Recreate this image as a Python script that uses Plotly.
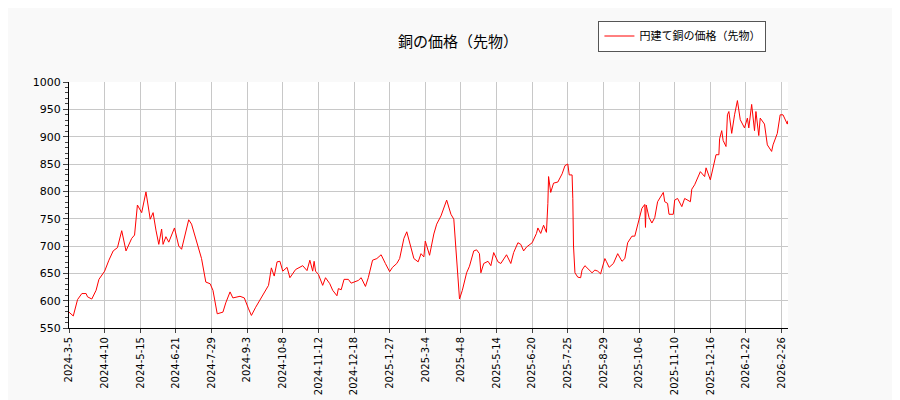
import plotly.graph_objects as go

# trading-day index (0 = 2024-3-5) and price
day = [0, 3, 6, 9, 12, 13, 16, 19, 21, 25, 28, 31, 34, 37, 40, 44, 46, 48, 51, 54,
       57, 59, 61, 63, 65, 66, 68, 70, 74, 77, 79, 81, 84, 86, 88, 90, 93, 96, 99, 101,
       104, 108, 110, 113, 115, 120, 123, 126, 128, 131, 135, 140, 142, 144, 146, 148, 150, 153, 155, 159,
       164, 167, 169, 171, 172, 173, 175, 177, 178, 180, 183, 185, 188, 189, 191, 193, 196, 198, 200, 203,
       205, 208, 210, 213, 216, 219, 222, 225, 227, 230, 232, 235, 237, 240, 242, 245, 247, 249, 250, 253,
       256, 258, 261, 265, 268, 270, 272, 273, 274, 276, 279, 281, 284, 286, 288, 289, 291, 294, 296, 298,
       301, 303, 307, 310, 312, 315, 317, 319, 321, 325, 328, 329, 331, 333, 335, 336, 336.5, 338, 340, 343,
       346, 348, 350, 351, 353, 353.5, 354, 355, 357, 359, 360, 362, 364, 367, 369, 371, 373, 376, 377, 379,
       382, 385, 388, 390, 392, 395, 397, 400, 402, 404, 404.5, 405, 407, 409, 411, 413, 417, 418, 420, 421,
       424, 425, 427, 430, 432, 436, 437, 439, 441, 443, 446, 447, 450, 452, 454, 456, 456.5, 458, 459, 461,
       462, 463, 465, 467, 469, 471, 474, 476, 477, 479, 481, 482, 484, 485, 488, 490, 493, 494, 497, 499,
       501, 504, 504.5, 505]
price = [579, 572, 602, 613, 613, 607, 603, 619, 639, 654, 674, 691, 697, 728, 691, 714, 720, 775, 761, 799,
         749, 761, 729, 703, 731, 703, 717, 707, 733, 700, 694, 714, 748, 740, 723, 703, 677, 634, 631, 619,
         576, 579, 596, 616, 605, 608, 605, 585, 573, 588, 605, 628, 660, 645, 671, 672, 654, 661, 642, 657,
         664, 655, 674, 654, 672, 654, 648, 634, 628, 642, 631, 619, 609, 622, 620, 639, 639, 632, 634, 637,
         642, 626, 642, 674, 677, 684, 668, 653, 661, 668, 677, 714, 726, 697, 677, 671, 686, 680, 709, 683,
         722, 740, 755, 784, 758, 749, 671, 637, 603, 619, 651, 663, 691, 693, 686, 651, 668, 672, 664, 688,
         671, 668, 684, 668, 688, 706, 703, 691, 698, 706, 723, 733, 723, 738, 725, 778, 827, 798, 815, 817,
         832, 847, 850, 830, 830, 787, 700, 651, 643, 642, 656, 664, 658, 651, 656, 654, 649, 677, 672, 661,
         668, 686, 672, 677, 706, 718, 718, 747, 769, 776, 734, 775, 752, 742, 752, 781, 798, 781, 778, 758,
         758, 784, 787, 772, 787, 781, 804, 812, 824, 836, 827, 843, 821, 844, 867, 867, 896, 911, 893, 882,
         940, 946, 906, 940, 966, 931, 916, 934, 916, 959, 911, 946, 902, 934, 923, 885, 873, 885, 906, 940,
         940, 923, 929, 919]

tick_days = list(range(0, 501, 25))
tick_labels = ['2024-3-5', '2024-4-10', '2024-5-15', '2024-6-21', '2024-7-29', '2024-9-3',
               '2024-10-8', '2024-11-12', '2024-12-18', '2025-1-27', '2025-3-4', '2025-4-8',
               '2025-5-14', '2025-6-20', '2025-7-25', '2025-8-29', '2025-10-6', '2025-11-10',
               '2025-12-16', '2026-1-22', '2026-2-26']

fig = go.Figure()
fig.add_trace(go.Scatter(x=day, y=price, mode='lines', name='円建て銅の価格（先物）',
                         line=dict(color='#ff0000', width=1)))

font = 'Noto Sans CJK JP, DejaVu Sans, sans-serif'
fig.update_layout(
    width=900, height=400,
    title=dict(text='銅の価格（先物）', x=0.5, y=0.93, xanchor='center',
               font=dict(family=font, size=15, color='#000')),
    paper_bgcolor='#f9f9f9', plot_bgcolor='#ffffff',
    font=dict(family=font, size=11, color='#000'),
    margin=dict(l=61, r=120, t=60, b=80),
    showlegend=True,
    legend=dict(x=0.97, y=1.25, xanchor='right', yanchor='top', bgcolor='#ffffff',
                bordercolor='#555', borderwidth=1, font=dict(size=11)),
    xaxis=dict(range=[0, 504.5], tickvals=tick_days, ticktext=tick_labels, tickangle=-90,
               showgrid=True, gridcolor='#c8c8c8', showline=True, linecolor='#000',
               ticks='outside', ticklen=4, mirror=False, zeroline=False,
               tickfont=dict(family='DejaVu Sans', size=10)),
    yaxis=dict(range=[550, 1000], dtick=50, showgrid=True, gridcolor='#c8c8c8',
               showline=True, linecolor='#000', ticks='outside', ticklen=5, zeroline=False,
               minor=dict(dtick=10, ticks='outside', ticklen=3, showgrid=False),
               tickfont=dict(family='DejaVu Sans', size=11)),
)
fig.write_html('out.html')
